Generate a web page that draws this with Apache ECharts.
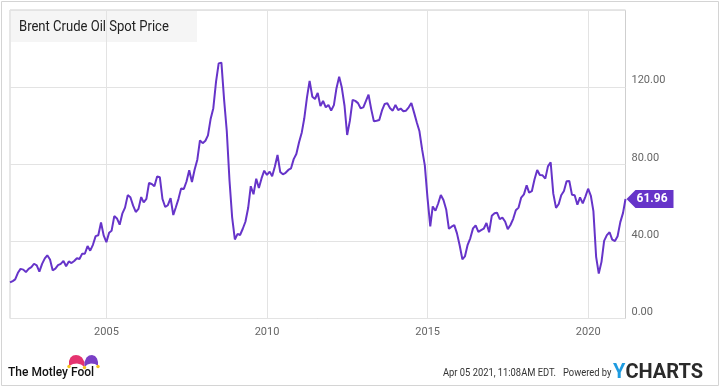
<!DOCTYPE html>
<html>
<head>
<meta charset="utf-8">
<script src="https://cdn.jsdelivr.net/npm/echarts@6/dist/echarts.min.js"></script>
<style>
html,body{margin:0;padding:0;background:#fff;}
#chart{width:720px;height:387px;}
</style>
</head>
<body>
<div id="chart"></div>
<script>
// ---- Data (monthly, month-end, Dec 2001 .. Feb 2021) ----
const chartTitle = 'Brent Crude Oil Spot Price';
const startYear = 2001, startMonth = 12;
const prices = [
  18.68,
  19.42, 20.28, 23.70, 25.73, 25.35, 24.08, 25.74, 26.65, 28.40, 27.54, 24.34, 28.33,
  31.18, 32.77, 30.61, 25.00, 25.86, 27.65, 28.35, 29.89, 27.11, 29.61, 28.75, 29.81,
  31.28, 30.86, 33.63, 33.59, 37.57, 35.18, 38.22, 42.74, 43.20, 49.78, 43.11, 39.60,
  44.51, 45.48, 53.10, 51.88, 48.65, 54.35, 57.52, 63.98, 62.91, 58.54, 55.24, 56.86,
  62.99, 60.21, 62.06, 70.26, 69.78, 68.56, 73.67, 73.23, 61.96, 57.81, 58.76, 62.47,
  53.68, 57.56, 62.05, 67.49, 67.21, 71.05, 76.93, 70.76, 77.17, 82.34, 92.41, 90.93,
  92.18, 94.99, 103.64, 109.07, 122.80, 132.32, 132.72, 113.24, 97.23, 71.58, 52.45, 41.00,
  43.90, 43.32, 46.54, 50.18, 57.30, 68.61, 64.44, 72.51, 67.65, 72.77, 76.66, 74.46,
  76.17, 73.75, 78.83, 84.82, 75.95, 74.76, 75.58, 77.04, 77.84, 82.67, 85.28, 91.45,
  96.52, 103.72, 114.64, 123.26, 114.99, 113.83, 116.97, 110.22, 112.83, 109.55, 110.77, 107.87,
  110.69, 119.33, 125.45, 119.75, 110.34, 95.16, 102.62, 113.36, 112.86, 111.71, 109.06, 109.49,
  112.96, 116.05, 108.47, 102.25, 102.56, 102.92, 107.93, 111.28, 111.60, 109.08, 107.79, 110.76,
  108.12, 108.90, 107.48, 107.76, 109.54, 111.80, 106.77, 101.61, 97.09, 87.43, 79.44, 62.34,
  47.76, 58.10, 55.89, 59.52, 64.08, 61.48, 56.56, 46.52, 47.62, 48.43, 44.27, 38.01,
  30.70, 32.18, 38.21, 41.58, 46.74, 48.25, 44.95, 45.84, 46.57, 49.52, 44.73, 53.31,
  54.58, 54.87, 51.59, 52.31, 50.33, 46.37, 48.48, 51.70, 56.15, 57.51, 62.71, 64.37,
  69.08, 65.32, 66.02, 72.11, 76.98, 74.41, 74.25, 72.53, 78.89, 81.03, 64.75, 57.36,
  59.41, 63.96, 66.14, 71.23, 71.32, 64.22, 63.92, 59.04, 62.83, 59.71, 63.21, 67.31,
  63.65, 55.66, 32.01, 23.30, 29.38, 40.27, 43.24, 44.74, 40.91, 40.19, 42.69, 49.99,
  54.77, 61.96
];
const xTickYears = [2005, 2010, 2015, 2020];
const yMin = 0, yMax = 160, yStep = 40;
const footerDate = 'Apr 05 2021, 11:08AM EDT.';

// ---- Build series (x = month-end timestamp) ----
const seriesData = prices.map(function (v, i) {
  const m = startMonth - 1 + i;
  const y = startYear + Math.floor(m / 12);
  const mo = m % 12;
  return [Date.UTC(y, mo + 1, 0), v];
});
const last = seriesData[seriesData.length - 1];
const xTicks = xTickYears.map(function (y) { return Date.UTC(y, 0, 1); });

const purple = '#6634c9';
const FONT = 'Roboto, "Noto Sans", sans-serif';

const chart = echarts.init(document.getElementById('chart'), null, {renderer: 'canvas'});
chart.setOption({
  animation: false,
  backgroundColor: '#ffffff',
  grid: {
    left: 10, top: 10, width: 615.5, height: 308.5,
    show: true, borderColor: '#cfcfcf', borderWidth: 1, backgroundColor: 'transparent'
  },
  xAxis: {
    type: 'value',
    min: seriesData[0][0], max: last[0],
    axisLine: {show: false},
    axisTick: {show: false, customValues: xTicks},
    axisLabel: {
      customValues: xTicks,
      margin: 8,
      color: '#666',
      fontFamily: FONT,
      fontSize: 11,
      formatter: function (v) { return String(new Date(v).getUTCFullYear()); }
    },
    splitLine: {show: true, lineStyle: {color: '#e3e3e3', width: 1}}
  },
  yAxis: {
    type: 'value',
    position: 'right',
    min: yMin, max: yMax, interval: yStep,
    axisLine: {show: false},
    axisTick: {show: false},
    axisLabel: {
      showMaxLabel: false,
      margin: 6,
      color: '#666',
      fontFamily: FONT,
      fontSize: 11,
      verticalAlign: 'bottom',
      padding: [0, 0, 1, 0],
      formatter: function (v) { return v.toFixed(2); }
    },
    splitLine: {show: true, lineStyle: {color: '#e3e3e3', width: 1}}
  },
  series: [{
    type: 'line',
    data: seriesData,
    showSymbol: false,
    symbol: 'none',
    lineStyle: {color: purple, width: 2},
    itemStyle: {color: purple},
    markPoint: {
      silent: true,
      data: [{coord: last, value: last[1]}],
      symbol: 'path://M0,9 L9,0 L47,0 L47,18 L9,18 Z',
      symbolSize: [47, 18],
      symbolOffset: [24.5, 0],
      itemStyle: {color: purple},
      label: {
        show: true,
        position: 'inside',
        offset: [2, 0],
        color: '#fff',
        fontFamily: FONT,
        fontWeight: 'bold',
        fontSize: 12,
        formatter: function (p) { return p.value.toFixed(2); }
      }
    }
  }],
  graphic: [
    {type: 'rect', z: -1, shape: {x: 1.5, y: 1.5, width: 717, height: 384},
     style: {fill: 'none', stroke: '#d4d4d4', lineWidth: 1}},
    {type: 'rect', z: -1, shape: {x: 11, y: 11, width: 186, height: 31},
     style: {fill: '#f5f5f5'}},
    {type: 'text', x: 19, y: 27, scaleX: 0.87, z: 10,
     style: {text: chartTitle, fill: '#222', font: '15px ' + FONT, verticalAlign: 'middle', align: 'left'}},
    {type: 'polygon', z: 10, shape: {points: [[69,366],[69,361],[70.5,357.5],[73,355.5],[76,355],[79,355.5],[82,357.5],[84.5,362],[84.5,367],[81,364.5],[77,363.5],[73,364]]},
     style: {fill: '#e5336f'}},
    {type: 'polygon', z: 10, shape: {points: [[84.5,362],[86.5,357.5],[89,355.5],[92,355],[95,356],[97,358.5],[98,362],[98,366],[95,364],[91,363.5],[87.5,364.5],[84.5,367]]},
     style: {fill: '#7a3fc6'}},
    {type: 'circle', z: 11, shape: {cx: 69, cy: 366.5, r: 1.7}, style: {fill: '#f6c31a'}},
    {type: 'circle', z: 11, shape: {cx: 84.5, cy: 367.5, r: 1.7}, style: {fill: '#f6c31a'}},
    {type: 'circle', z: 11, shape: {cx: 98, cy: 366.5, r: 1.7}, style: {fill: '#f6c31a'}},
    {type: 'text', x: 8, y: 373, z: 10,
     style: {text: 'The Motley Fool', fill: '#111', font: '500 12px ' + FONT, verticalAlign: 'middle', align: 'left'}},
    {type: 'text', x: 443, y: 373, scaleX: 0.85, z: 10,
     style: {text: footerDate, fill: '#333', font: '11px ' + FONT, verticalAlign: 'middle', align: 'left'}},
    {type: 'text', x: 563, y: 373, scaleX: 0.85, z: 10,
     style: {text: 'Powered by', fill: '#333', font: '11px ' + FONT, verticalAlign: 'middle', align: 'left'}},
    {type: 'text', x: 613, y: 373, z: 10,
     style: {text: '{y|Y}{c|CHARTS}', verticalAlign: 'middle', align: 'left',
       rich: {
         y: {fill: '#1e9be0', font: 'bold 20px ' + FONT},
         c: {fill: '#2a2a2a', font: 'bold 20px ' + FONT}
       }}}
  ]
});
</script>
</body>
</html>
